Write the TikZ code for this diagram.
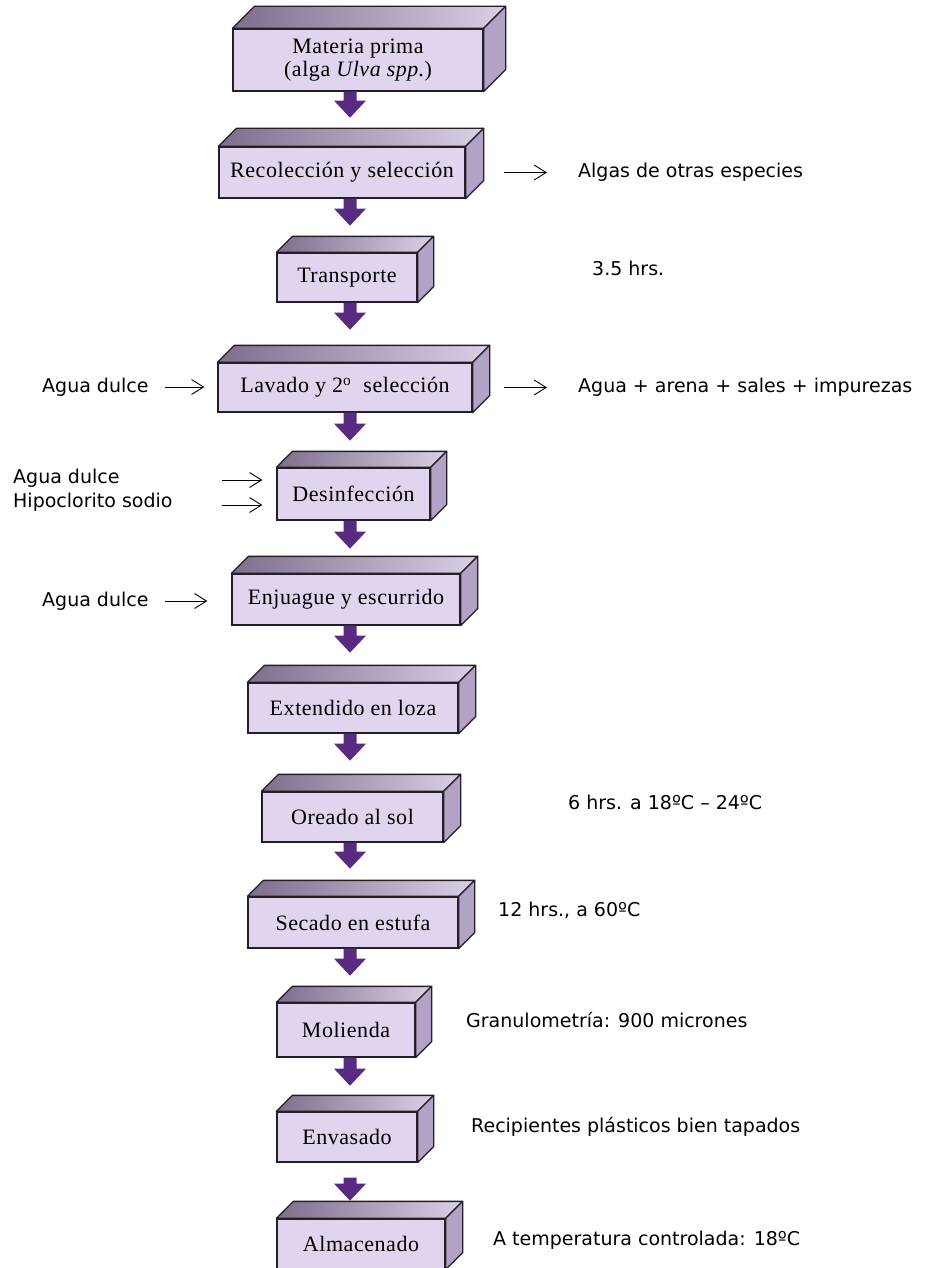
\documentclass[tikz,border=0pt]{standalone}
\usepackage{fontspec}
\usetikzlibrary{arrows.meta,calc}
\newfontfamily\serifcaja[LetterSpace=2.5]{Liberation Serif}
\newfontfamily\sanslado{DejaVu Sans}

\definecolor{frente}{RGB}{224,212,238}
\definecolor{tapaosc}{RGB}{125,110,140}
\definecolor{tapaclara}{RGB}{218,208,230}
\definecolor{ladocol}{RGB}{178,162,198}
\definecolor{borde}{RGB}{35,30,40}
\definecolor{morado}{RGB}{88,42,130}

\tikzset{
  paso/.style={draw=borde, line width=1.3pt, fill=frente, inner sep=0pt,
    font=\serifcaja\fontsize{22}{23}\selectfont, align=center},
  tapa/.style={draw=borde, line width=1.3pt, line join=round,
    left color=tapaosc, right color=tapaclara},
  lado/.style={draw=borde, line width=1.3pt, line join=round, fill=ladocol},
  nota/.style={anchor=west, inner sep=0pt, font=\sanslado\fontsize{19}{22}\selectfont},
  flechita/.style={line width=0.9pt, -{Straight Barb[length=12pt,width=15pt]}},
  flechon/.style={fill=morado}
}

% caras de arriba y del costado
\newcommand\tapas[2]{%
  \path[tapa] (#1.north west) -- ++(#2,-#2) -- ([shift={(#2,-#2)}]#1.north east) -- (#1.north east) -- cycle;
  \path[lado] (#1.north east) -- ++(#2,-#2) -- ([shift={(#2,-#2)}]#1.south east) -- (#1.south east) -- cycle;}

% flecha gruesa hacia abajo
\newcommand\bajada[3][0]{%
  \fill[flechon] ($(#2.south -| eje)+(0,#1)$) ++(-6.5,0) -- ++(13,0) -- ++(0,#3-17) -- ++(9.5,0)
    -- ++(-16,17) -- ++(-16,-17) -- ++(9.5,0) -- cycle;}

\begin{document}
\begin{tikzpicture}[x=1pt,y=-1pt]
  \useasboundingbox[fill=white] (0,0) rectangle (932,1268);
  \coordinate (eje) at (350,0);

  % pasos del proceso
  \node[paso, minimum width=250, minimum height=62] (materia) at (358,60)
    {Materia prima\\(alga \textit{Ulva spp}.)};
  \node[paso, minimum width=246, minimum height=51] (recol) at (342,172.5) {Recolección y selección};
  \node[paso, minimum width=140, minimum height=49] (transp) at (347,277.5) {Transporte};
  \node[paso, minimum width=254, minimum height=49] (lavado) at (345,387.5)
    {Lavado y 2\textsuperscript{o}\ \ selección};
  \node[paso, minimum width=153, minimum height=52] (desinf) at (353.5,494) {Desinfección};
  \node[paso, minimum width=228, minimum height=51] (enjuague) at (346,599.5) {Enjuague y escurrido};
  \node[paso, minimum width=210, minimum height=50] (extend) at (353,708) {Extendido en loza};
  \node[paso, minimum width=181, minimum height=50] (oreado) at (352.5,817) {Oreado al sol};
  \node[paso, minimum width=210, minimum height=51] (secado) at (353,922.5) {Secado en estufa};
  \node[paso, minimum width=138, minimum height=54] (molienda) at (346,1030) {Molienda};
  \node[paso, minimum width=140, minimum height=50] (envasado) at (347,1137) {Envasado};
  \node[paso, minimum width=168, minimum height=50] (almacen) at (361,1244) {Almacenado};

  \tapas{materia}{22}
  \tapas{recol}{18}
  \tapas{transp}{16}
  \tapas{lavado}{17}
  \tapas{desinf}{16}
  \tapas{enjuague}{17}
  \tapas{extend}{17}
  \tapas{oreado}{17}
  \tapas{secado}{16}
  \tapas{molienda}{16}
  \tapas{envasado}{16}
  \tapas{almacen}{17}

  % flechas gruesas
  \bajada{materia}{26}
  \bajada{recol}{27}
  \bajada{transp}{27}
  \bajada{lavado}{28}
  \bajada{desinf}{28}
  \bajada{enjuague}{27}
  \bajada{extend}{27}
  \bajada{oreado}{26}
  \bajada{secado}{27}
  \bajada{molienda}{28}
  \bajada[15]{envasado}{23}

  % notas laterales
  \node[nota] (algas) at (578,172) {Algas de otras especies};
  \node[nota] (horas) at (592,268) {3.5 hrs.};
  \node[nota] (impurezas) at (578,387) {Agua + arena + sales + impurezas};
  \node[nota] (agua1) at (42,387) {Agua dulce};
  \node[nota] (agua2) at (13,478) {Agua dulce};
  \node[nota] (hipo) at (13,502) {Hipoclorito sodio};
  \node[nota] (agua3) at (42,601) {Agua dulce};
  \node[nota] (sol) at (568,802) {6 hrs. a 18ºC – 24ºC};
  \node[nota] (estufa) at (498,910) {12 hrs., a 60ºC};
  \node[nota] (granulo) at (466,1020) {Granulometría: 900 micrones};
  \node[nota] (envases) at (471,1127) {Recipientes plásticos bien tapados};
  \node[nota] (temp) at (493,1240) {A temperatura controlada: 18ºC};

  % flechas finas
  \coordinate (e1) at (165,387);
  \coordinate (e2) at (222,480);
  \coordinate (e3) at (222,505);
  \coordinate (e4) at (165,601);
  \draw[flechita, shorten >=13pt] (e1) -- (e1 -| lavado.west);
  \draw[flechita, shorten >=14pt] (e2) -- (e2 -| desinf.west);
  \draw[flechita, shorten >=14pt] (e3) -- (e3 -| desinf.west);
  \draw[flechita, shorten >=24pt] (e4) -- (e4 -| enjuague.west);
  \draw[flechita, shorten <=38pt, shorten >=31pt] (recol.east) -- (recol.east -| algas.west);
  \draw[flechita, shorten <=31pt, shorten >=31pt] (lavado.east) -- (lavado.east -| impurezas.west);
\end{tikzpicture}
\end{document}
